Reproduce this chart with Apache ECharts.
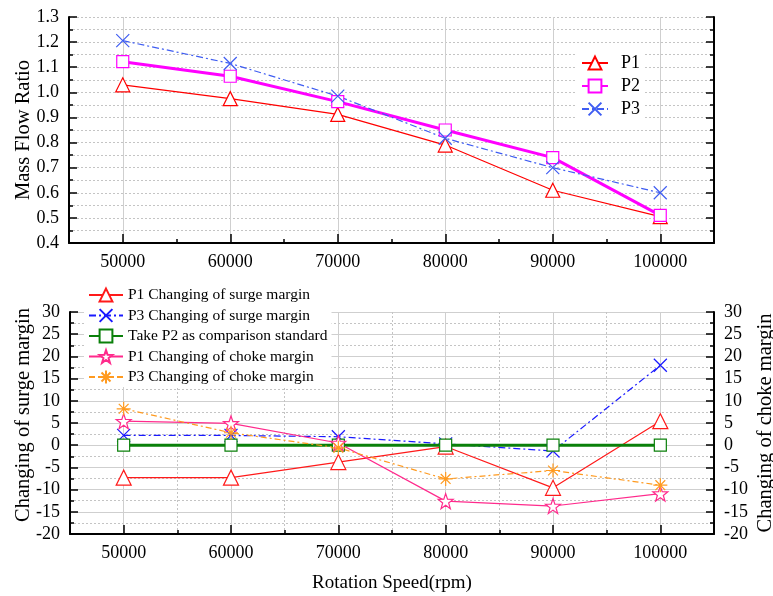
<!DOCTYPE html>
<html>
<head>
<meta charset="utf-8">
<script src="https://cdn.jsdelivr.net/npm/echarts@6/dist/echarts.min.js"></script>
<style>
html, body { margin: 0; padding: 0; background: #fff; }
#main { width: 773px; height: 596px; }
</style>
</head>
<body>
<div id="main"></div>
<script>
// rotation speeds (rpm)
var speeds = [50000, 60000, 70000, 80000, 90000, 100000];
var minorSpeeds = [55000, 65000, 75000, 85000, 95000];

// mass flow ratio
var flowP1 = [1.03, 0.975, 0.912, 0.79, 0.61, 0.505];
var flowP2 = [1.122, 1.064, 0.963, 0.85, 0.74, 0.51];
var flowP3 = [1.206, 1.115, 0.985, 0.817, 0.70, 0.60];

// changing of surge / choke margin
var surgeP1 = [-7.3, -7.3, -3.8, -0.3, -9.6, 5.4];
var surgeP3 = [2.2, 2.2, 1.9, 0.3, -1.3, 18];
var baseP2 = [0, 0, 0, 0, 0, 0];
var chokeP1 = [5.4, 4.9, 0.5, -12.6, -13.7, -10.9];
var chokeP3 = [8.2, 2.8, -0.6, -7.6, -5.7, -9.0];

var FONT = '"Liberation Serif", "Times New Roman", serif';
var xMark = 'path://M0,0L10,10M10,0L0,10';
var starMark = 'path://M10,0L12.35,6.76L19.51,6.91L13.8,11.24L15.88,18.09L10,14L4.12,18.09L6.2,11.24L0.49,6.91L7.65,6.76Z';
var astMark = 'path://M0,5L10,5M5,0L5,10M1.5,1.5L8.5,8.5M8.5,1.5L1.5,8.5';

function pts(ys) {
  return speeds.map(function (x, i) { return [x, ys[i]]; });
}

var axisBlack = { show: true, onZero: false, lineStyle: { color: '#000', width: 2 } };
var gridSolid = { show: true, lineStyle: { color: '#cfcfcf', width: 1, type: 'solid' } };
var gridDot = { show: true, lineStyle: { color: '#c4c4c4', width: 1, type: [2, 2] } };

function xMain(grid, split, name) {
  return {
    type: 'value', gridIndex: grid, position: 'bottom', min: 45000, max: 105000,
    axisLine: axisBlack,
    axisTick: { inside: true, length: 9, customValues: speeds, lineStyle: { color: '#000', width: 1.5 } },
    axisLabel: { customValues: speeds, fontFamily: FONT, fontSize: 18, color: '#000', margin: 10,
      formatter: function (v) { return String(v); } },
    splitLine: split,
    name: name || '', nameLocation: 'middle', nameGap: 40, nameMoveOverlap: false,
    nameTextStyle: { fontFamily: FONT, fontSize: 19, color: '#000' }
  };
}
function xMinor(grid, split) {
  return {
    type: 'value', gridIndex: grid, position: 'bottom', min: 45000, max: 105000,
    axisLine: { show: false, onZero: false },
    axisTick: { inside: true, length: 4, customValues: minorSpeeds, lineStyle: { color: '#000', width: 1.5 } },
    axisLabel: { show: false },
    splitLine: split
  };
}
function yAx(grid, pos, min, max, step, opts) {
  return {
    type: 'value', gridIndex: grid, position: pos, min: min, max: max, interval: step,
    axisLine: axisBlack,
    axisTick: { show: true, inside: true, length: 8, lineStyle: { color: '#000', width: 1.5 } },
    minorTick: { show: true, splitNumber: 2, length: 4, lineStyle: { color: '#000', width: 1.5 } },
    axisLabel: { show: opts.label, fontFamily: FONT, fontSize: 18, color: '#000', margin: 10,
      formatter: opts.fmt },
    splitLine: opts.split || { show: false },
    minorSplitLine: opts.minor || { show: false },
    name: opts.name || '', nameLocation: 'middle', nameGap: opts.gap || 40, nameMoveOverlap: false,
    nameTextStyle: { fontFamily: FONT, fontSize: 20.5, color: '#000', padding: opts.pad || 0 }
  };
}

function lineSeries(name, xi, yi, data, color, width, dash, symbol, size, fill) {
  return {
    name: name, type: 'line', xAxisIndex: xi, yAxisIndex: yi, data: pts(data),
    symbol: symbol, symbolSize: size,
    lineStyle: { color: color, width: width, type: dash },
    itemStyle: { color: fill, borderColor: color, borderWidth: 1.2 },
    emphasis: { disabled: true }
  };
}

var chart = echarts.init(document.getElementById('main'));
chart.setOption({
  animation: false,
  backgroundColor: '#fff',
  textStyle: { fontFamily: FONT },
  grid: [
    { left: 69, right: 59, top: 17, height: 226, outerBoundsMode: 'none' },
    { left: 70, right: 59, top: 312, height: 222, outerBoundsMode: 'none' }
  ],
  legend: [
    {
      data: ['P1', 'P2', 'P3'], orient: 'vertical', left: 577, top: 52,
      padding: [2, 4, 2, 4], backgroundColor: '#fff',
      itemWidth: 26, itemHeight: 16, itemGap: 5,
      textStyle: { fontFamily: FONT, fontSize: 18, color: '#000', padding: [0, 0, 0, 8] }
    },
    {
      data: ['P1 Changing of surge margin', 'P3 Changing of surge margin', 'Take P2 as comparison standard',
        'P1 Changing of choke margin', 'P3 Changing of choke margin'],
      orient: 'vertical', left: 84, top: 285,
      padding: [2, 4, 2, 4], backgroundColor: '#fff',
      itemWidth: 34, itemHeight: 16, itemGap: 4.5,
      textStyle: { fontFamily: FONT, fontSize: 15.5, color: '#000' }
    }
  ],
  xAxis: [
    xMain(0, gridSolid),
    xMinor(0, { show: false }),
    xMain(1, gridSolid, 'Rotation Speed(rpm)'),
    xMinor(1, gridDot)
  ],
  yAxis: [
    yAx(0, 'left', 0.4, 1.3, 0.1, { label: true, fmt: function (v) { return v.toFixed(1); },
      split: gridDot, minor: gridDot, name: 'Mass Flow Ratio', gap: 35 }),
    yAx(0, 'right', 0.4, 1.3, 0.1, { label: false }),
    yAx(1, 'left', -20, 30, 5, { label: true, split: gridSolid, minor: gridDot,
      name: 'Changing of surge margin', gap: 36, pad: [0, 0, 0, 16] }),
    yAx(1, 'right', -20, 30, 5, { label: true, name: 'Changing of choke margin', gap: 41 })
  ],
  series: [
    lineSeries('P1', 0, 0, flowP1, '#ff0000', 1.2, 'solid', 'triangle', 14, '#fff'),
    lineSeries('P2', 0, 0, flowP2, '#ff00ff', 3, 'solid', 'rect', 12, '#fff'),
    lineSeries('P3', 0, 0, flowP3, '#3f5df2', 1.2, [7, 3, 2, 3], xMark, 13, '#3f5df2'),
    lineSeries('P1 Changing of surge margin', 2, 2, surgeP1, '#ff1a1a', 1.2, 'solid', 'triangle', 15, '#fff'),
    lineSeries('P3 Changing of surge margin', 2, 2, surgeP3, '#1a1aff', 1.2, [7, 3, 2, 3], xMark, 13, '#1a1aff'),
    lineSeries('Take P2 as comparison standard', 2, 2, baseP2, '#0a800a', 3, 'solid', 'rect', 12, '#fff'),
    lineSeries('P1 Changing of choke margin', 2, 3, chokeP1, '#ff2a8c', 1.2, 'solid', starMark, 15, '#fff'),
    lineSeries('P3 Changing of choke margin', 2, 3, chokeP3, '#ff9a1f', 1.2, [6, 3, 2, 3], astMark, 14, '#ff9a1f')
  ]
});
</script>
</body>
</html>
